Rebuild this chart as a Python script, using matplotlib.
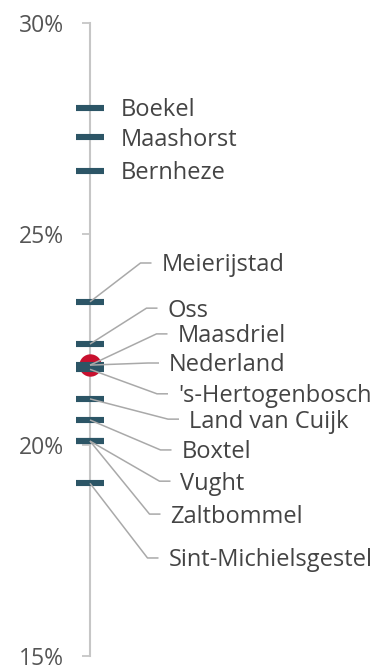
import matplotlib
matplotlib.use("Agg")
import matplotlib.pyplot as plt
from matplotlib.transforms import ScaledTranslation

# Share of residents per municipality (%), with the national figure
municipalities = ["Boekel", "Maashorst", "Bernheze", "Meierijstad", "Oss",
                  "Maasdriel", "'s-Hertogenbosch", "Land van Cuijk", "Boxtel",
                  "Vught", "Zaltbommel", "Sint-Michielsgestel"]
values = [28.0, 27.3, 26.5, 23.4, 22.4, 21.9, 21.8, 21.1, 20.6, 20.1, 20.1, 19.1]

national_label = "Nederland"
national_value = 21.9

y_ticks = [15, 20, 25, 30]
y_tick_labels = ["15%", "20%", "25%", "30%"]

# Label placement: vertical position (in %) and left edge of the text (x units)
label_y = {"Boekel": 28.0, "Maashorst": 27.3, "Bernheze": 26.5,
           "Meierijstad": 24.32, "Oss": 23.25, "Maasdriel": 22.64,
           "Nederland": 21.95, "'s-Hertogenbosch": 21.22, "Land van Cuijk": 20.62,
           "Boxtel": 19.89, "Vught": 19.15, "Zaltbommel": 18.37,
           "Sint-Michielsgestel": 17.33}
label_x = {"Boekel": 121, "Maashorst": 121, "Bernheze": 121,
           "Meierijstad": 161.5, "Oss": 167.5, "Maasdriel": 177.5,
           "Nederland": 169, "'s-Hertogenbosch": 178, "Land van Cuijk": 189,
           "Boxtel": 181.5, "Vught": 180.5, "Zaltbommel": 170.5,
           "Sint-Michielsgestel": 168.5}
direct_labels = {"Boekel", "Maashorst", "Bernheze"}

BAR = "#2c5566"
DOT = "#c8102e"
LEADER = "#a9a9a9"
AXIS = "#c6c6c6"
TEXT = "#444444"

plt.rcParams["font.family"] = ["Open Sans", "DejaVu Sans"]

fig = plt.figure(figsize=(3.75, 6.65), dpi=100)
ax = fig.add_axes([0, 0, 1, 1])
px_per_unit = 42.2
ax.set_xlim(0, 375)
ax.set_ylim(30 - (665 - 23.3) / px_per_unit, 30 + 23.3 / px_per_unit)

# axis at x = 90
axis_x = 90
for s in ["top", "right", "bottom"]:
    ax.spines[s].set_visible(False)
ax.spines["left"].set_position(("data", axis_x))
ax.spines["left"].set_bounds(15, 30)
ax.spines["left"].set_color(AXIS)
ax.spines["left"].set_linewidth(1.5)
ax.spines["left"].set_zorder(1)
ax.set_xticks([])
ax.set_yticks(y_ticks)
ax.set_yticklabels(y_tick_labels)
ax.tick_params(axis="y", length=6, width=1.3, color=AXIS, pad=13,
               labelsize=16.5, labelcolor="#555555")

# national marker below the bars
ax.scatter([axis_x], [national_value], s=260, color=DOT, zorder=2, linewidths=0)

# municipality bars
ax.hlines(values, axis_x - 14, axis_x + 14, colors=BAR, linewidth=4.4, zorder=3)

text_shift = ScaledTranslation(0, -6.1 / 72, fig.dpi_scale_trans)

def place_label(name, v):
    ty = label_y[name]
    tx = label_x[name]
    if name not in direct_labels:
        h_end = tx - 10
        elbow = h_end - 11
        ax.plot([axis_x, elbow, h_end], [v, ty, ty], color=LEADER, lw=1.1,
                zorder=4, solid_capstyle="butt")
    ax.text(tx, ty, name, ha="left", va="baseline", fontsize=17, color=TEXT,
            transform=ax.transData + text_shift)

for name, v in zip(municipalities, values):
    place_label(name, v)
place_label(national_label, national_value)

fig.savefig("out.png", dpi=100)
